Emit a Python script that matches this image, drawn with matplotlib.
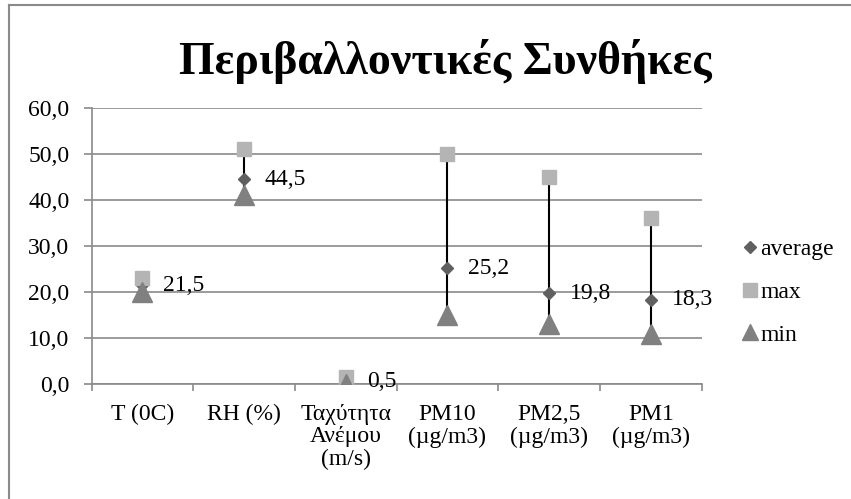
import matplotlib
matplotlib.use("Agg")
import matplotlib.pyplot as plt
from matplotlib.lines import Line2D

plt.rcParams['font.family'] = ['Liberation Serif', 'DejaVu Serif']

categories = ["T (0C)", "RH (%)", "Ταχύτητα\nΑνέμου\n(m/s)", "PM10\n(µg/m3)", "PM2,5\n(µg/m3)", "PM1\n(µg/m3)"]
avg_vals = [21.5, 44.5, 0.5, 25.2, 19.8, 18.3]
max_vals = [23.0, 51.0, 1.5, 50.0, 45.0, 36.0]
min_vals = [20.0, 41.0, 0.0, 15.0, 13.0, 11.0]
y_ticks = [0, 10, 20, 30, 40, 50, 60]
title = "Περιβαλλοντικές Συνθήκες"

c_avg = "#606060"
c_max = "#B4B4B4"
c_min = "#808080"
c_grid = "#8A8A8A"
fs = 17

fig = plt.figure(figsize=(8.51, 4.99), dpi=100)
ax = fig.add_axes([91.6/851, 1-384.3/499, (701.7-91.6)/851, (384.3-107.7)/499])

x = list(range(len(categories)))
ax.vlines(x, min_vals, max_vals, colors="black", linewidth=1.5, zorder=3)
ax.plot(x, avg_vals, linestyle="none", marker="D", markersize=6.2, color=c_avg, zorder=4)
ax.plot(x, max_vals, linestyle="none", marker="s", markersize=9.8, color=c_max, zorder=4)
ax.plot(x, min_vals, linestyle="none", marker="^", markersize=14, color=c_min, zorder=5)

for xi, v in zip(x, avg_vals):
    ax.annotate(f"{v:.1f}".replace(".", ","), (xi, v), xytext=(15, 0),
                textcoords="offset points", ha="left", va="center", fontsize=fs, zorder=6)

ax.set_xlim(-0.5, len(categories) - 0.5)
ax.set_ylim(0, 60)
ax.set_yticks(y_ticks)
ax.set_yticklabels([f"{t:.1f}".replace(".", ",") for t in y_ticks], fontsize=fs)
ax.set_xticks(x)
ax.set_xticklabels(categories, fontsize=fs, linespacing=1.1)
ax.set_xticks([i - 0.5 for i in range(len(categories) + 1)], minor=True)
ax.tick_params(axis="x", which="major", length=0, pad=14)
ax.tick_params(axis="x", which="minor", length=5, color=c_grid, width=1.2)
ax.tick_params(axis="y", length=6, color=c_grid, width=1.2, pad=10)

ax.grid(axis="y", color=c_grid, linewidth=1.2, zorder=0)
ax.set_axisbelow(True)
for s in ["top", "right"]:
    ax.spines[s].set_visible(False)
for s in ["left", "bottom"]:
    ax.spines[s].set_color(c_grid)
    ax.spines[s].set_linewidth(1.2)

fig.text(445/851, 1-62/499, title, fontsize=33, fontweight="bold", ha="center", va="center")

handles = [
    Line2D([], [], linestyle="none", marker="D", markersize=6.5, color=c_avg),
    Line2D([], [], linestyle="none", marker="s", markersize=9.5, color=c_max),
    Line2D([], [], linestyle="none", marker="^", markersize=12, color=c_min),
]
fig.legend(handles, ["average", "max", "min"], loc="center left",
           bbox_to_anchor=(733/851, 1-292/499), frameon=False, fontsize=fs,
           handlelength=0.6, handletextpad=0.15, labelspacing=0.9, borderaxespad=0)

# chart-area border (left and top visible)
fig.add_artist(Line2D([9/851, 9/851], [0, 1-5/499], color=c_grid, linewidth=1.5, transform=fig.transFigure))
fig.add_artist(Line2D([9/851, 1], [1-5/499, 1-5/499], color=c_grid, linewidth=1.5, transform=fig.transFigure))

fig.savefig("out.png", dpi=100)
